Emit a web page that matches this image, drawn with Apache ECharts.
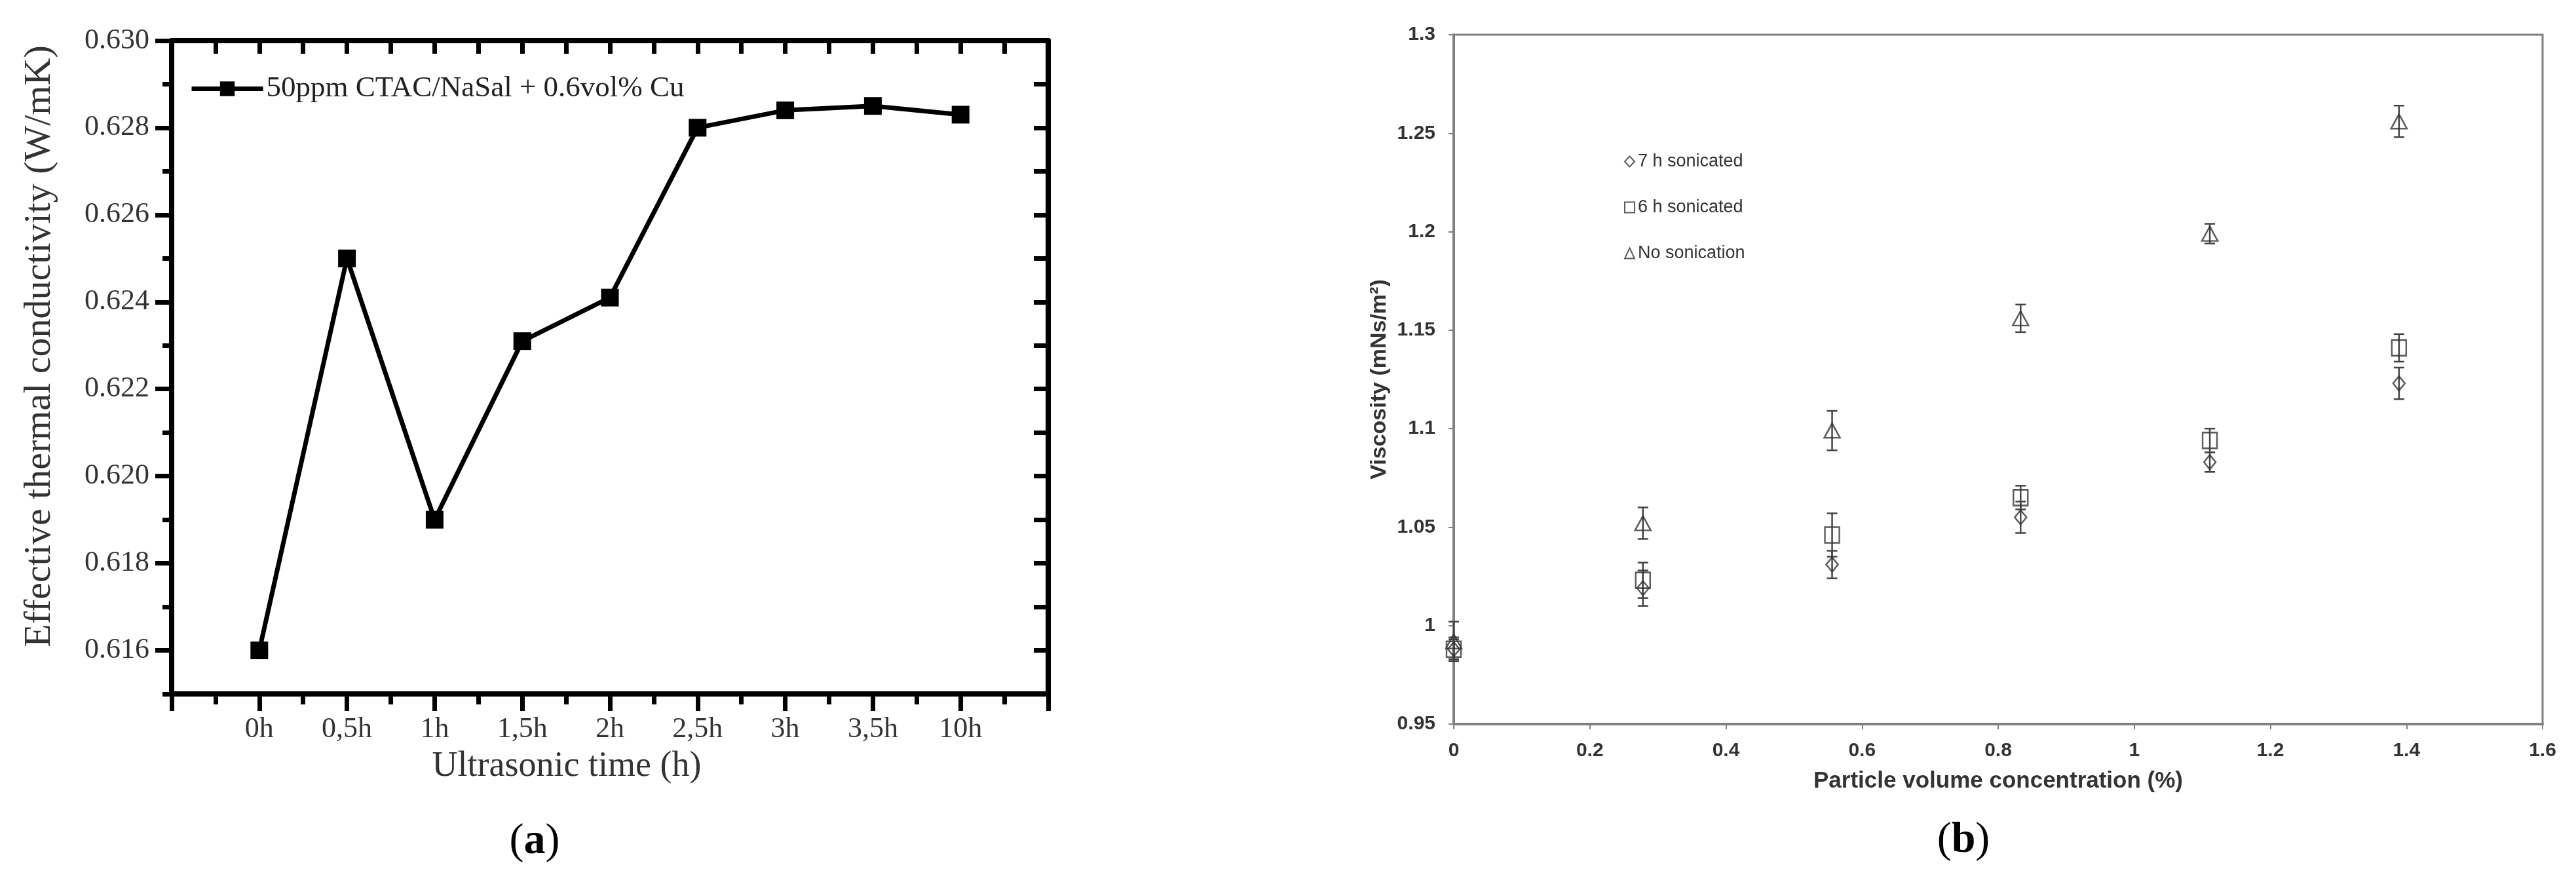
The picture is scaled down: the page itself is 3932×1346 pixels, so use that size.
<!DOCTYPE html>
<html><head><meta charset="utf-8">
<script src="https://cdn.jsdelivr.net/npm/echarts@6/dist/echarts.min.js"></script>
<style>html,body{margin:0;padding:0;background:#fff}#c{width:3932px;height:1346px}</style>
</head><body><div id="c"></div>
<script>
// ---- Panel (a) data ----
const timeLabels = ['0h', '0,5h', '1h', '1,5h', '2h', '2,5h', '3h', '3,5h', '10h'];
const conductivity = [0.616, 0.625, 0.619, 0.6231, 0.6241, 0.628, 0.6284, 0.6285, 0.6283];
const conductivityTicks = [0.616, 0.618, 0.620, 0.622, 0.624, 0.626, 0.628, 0.630];
const seriesA = '50ppm CTAC/NaSal + 0.6vol% Cu';

// ---- Panel (b) data ----
const concentration = [0, 0.278, 0.556, 0.833, 1.111, 1.389];
const visc7h = [0.988, 1.019, 1.031, 1.055, 1.083, 1.123];
const err7h = [0.005, 0.009, 0.007, 0.008, 0.005, 0.008];
const visc6h = [0.988, 1.023, 1.046, 1.065, 1.094, 1.141];
const err6h = [0.006, 0.009, 0.011, 0.006, 0.006, 0.007];
const viscNone = [0.992, 1.052, 1.099, 1.156, 1.199, 1.256];
const errNone = [0.010, 0.008, 0.010, 0.007, 0.005, 0.008];
const namesB = ['7 h sonicated', '6 h sonicated', 'No sonication'];

const chart = echarts.init(document.getElementById('c'));
const SERIF = 'Liberation Serif';
const SANS = 'Liberation Sans';
const black = '#000';
const gray = '#808080';

function errRender(params, api) {
  const x = api.value(0), y = api.value(1), e = api.value(2);
  const t = api.coord([x, y + e]), b = api.coord([x, y - e]);
  const c = 8;
  const st = { stroke: '#444', lineWidth: 2.5 };
  return { type: 'group', children: [
    { type: 'line', shape: { x1: t[0], y1: t[1], x2: b[0], y2: b[1] }, style: st },
    { type: 'line', shape: { x1: t[0] - c, y1: t[1], x2: t[0] + c, y2: t[1] }, style: st },
    { type: 'line', shape: { x1: b[0] - c, y1: b[1], x2: b[0] + c, y2: b[1] }, style: st }
  ]};
}
function errData(vals, errs) { return concentration.map((x, i) => [x, vals[i], errs[i]]); }
function ptData(vals) { return concentration.map((x, i) => [x, vals[i]]); }

const AXW = 8, TKW = 7;
const option = {
  backgroundColor: '#fff',
  animation: false,
  grid: [
    { left: 262, right: 2332, top: 62, bottom: 287 },
    { left: 2219, right: 51, top: 53, bottom: 241, show: true, borderColor: gray, borderWidth: 3 }
  ],
  legend: [
    { data: [seriesA], left: 284, top: 108, itemWidth: 109, itemHeight: 28,
      lineStyle: { width: 7 },
      textStyle: { fontFamily: SERIF, fontSize: 45, color: '#222' } },
    { data: namesB, orient: 'vertical', left: 2474, top: 228, itemWidth: 15, itemHeight: 16, itemGap: 43,
      textStyle: { fontFamily: SANS, fontSize: 27, color: '#333' } }
  ],
  xAxis: [
    { gridIndex: 0, type: 'value', position: 'bottom', min: 0, max: 10, interval: 1,
      axisLine: { lineStyle: { color: black, width: AXW } },
      axisTick: { inside: false, length: 26, lineStyle: { color: black, width: TKW } },
      minorTick: { show: true, splitNumber: 2, length: 16, lineStyle: { color: black, width: TKW } },
      splitLine: { show: false }, minorSplitLine: { show: false },
      axisLabel: { formatter: v => timeLabels[Math.round(v) - 1] || '', fontFamily: SERIF, fontSize: 44, color: '#333', margin: 32 },
      name: 'Ultrasonic time (h)', nameLocation: 'middle', nameGap: 84,
      nameTextStyle: { fontFamily: SERIF, fontSize: 54, color: '#333', padding: [0, 132, 0, 0] } },
    { gridIndex: 0, type: 'value', position: 'top', min: 0, max: 10, interval: 0.5,
      axisLine: { lineStyle: { color: black, width: AXW } },
      axisTick: { inside: true, length: 20, lineStyle: { color: black, width: TKW } },
      axisLabel: { show: false }, splitLine: { show: false } },
    { gridIndex: 1, type: 'value', min: 0, max: 1.6, interval: 0.2,
      axisLine: { lineStyle: { color: gray, width: 4 } },
      axisTick: { length: 8, lineStyle: { color: gray, width: 2 } },
      splitLine: { show: false },
      axisLabel: { fontFamily: SANS, fontWeight: 'bold', fontSize: 30, color: '#333', margin: 26 },
      name: 'Particle volume concentration (%)', nameLocation: 'middle', nameGap: 70,
      nameTextStyle: { fontFamily: SANS, fontWeight: 'bold', fontSize: 35, color: '#333' } }
  ],
  yAxis: [
    { gridIndex: 0, type: 'value', position: 'left', min: 0.615, max: 0.630, interval: 0.001,
      axisLine: { lineStyle: { color: black, width: AXW } },
      axisTick: { customValues: conductivityTicks, length: 25, lineStyle: { color: black, width: TKW } },
      axisLabel: { customValues: conductivityTicks, formatter: v => v.toFixed(3), fontFamily: SERIF, fontSize: 44, color: '#333', margin: 34 },
      splitLine: { show: false },
      name: 'Effective thermal conductivity (W/mK)', nameLocation: 'middle', nameGap: 172,
      nameTextStyle: { fontFamily: SERIF, fontSize: 58, color: '#333', padding: [0, 0, 0, 64] } },
    { gridIndex: 0, type: 'value', position: 'left', min: 0.615, max: 0.630, interval: 0.001,
      axisLine: { show: false },
      axisTick: { length: 14, lineStyle: { color: black, width: TKW } },
      axisLabel: { show: false }, splitLine: { show: false } },
    { gridIndex: 0, type: 'value', position: 'right', min: 0.615, max: 0.630, interval: 0.001,
      axisLine: { lineStyle: { color: black, width: AXW } },
      axisTick: { inside: true, length: 22, lineStyle: { color: black, width: TKW } },
      axisLabel: { show: false }, splitLine: { show: false } },
    { gridIndex: 1, type: 'value', min: 0.95, max: 1.3, interval: 0.05,
      axisLine: { lineStyle: { color: gray, width: 4 } },
      axisTick: { length: 8, lineStyle: { color: gray, width: 2 } },
      splitLine: { show: false },
      axisLabel: { fontFamily: SANS, fontWeight: 'bold', fontSize: 30, color: '#333', margin: 28 },
      name: 'Viscosity (mNs/m²)', nameLocation: 'middle', nameGap: 96,
      nameTextStyle: { fontFamily: SANS, fontWeight: 'bold', fontSize: 34, color: '#333' } }
  ],
  series: [
    { name: seriesA, type: 'line', xAxisIndex: 0, yAxisIndex: 0,
      data: conductivity.map((v, i) => [i + 1, v]),
      symbol: 'rect', symbolSize: 27,
      lineStyle: { color: black, width: 7 }, itemStyle: { color: black } },
    { type: 'custom', xAxisIndex: 2, yAxisIndex: 3, renderItem: errRender, data: errData(visc7h, err7h), encode: { x: 0, y: 1 }, z: 1 },
    { type: 'custom', xAxisIndex: 2, yAxisIndex: 3, renderItem: errRender, data: errData(visc6h, err6h), encode: { x: 0, y: 1 }, z: 1 },
    { type: 'custom', xAxisIndex: 2, yAxisIndex: 3, renderItem: errRender, data: errData(viscNone, errNone), encode: { x: 0, y: 1 }, z: 1 },
    { name: namesB[0], type: 'scatter', xAxisIndex: 2, yAxisIndex: 3, data: ptData(visc7h),
      symbol: 'diamond', symbolSize: [18, 22], z: 3,
      itemStyle: { color: 'rgba(255,255,255,0)', borderColor: '#333', borderWidth: 2.5 } },
    { name: namesB[1], type: 'scatter', xAxisIndex: 2, yAxisIndex: 3, data: ptData(visc6h),
      symbol: 'rect', symbolSize: [22, 24], z: 3,
      itemStyle: { color: 'rgba(255,255,255,0)', borderColor: '#333', borderWidth: 2.5 } },
    { name: namesB[2], type: 'scatter', xAxisIndex: 2, yAxisIndex: 3, data: ptData(viscNone),
      symbol: 'triangle', symbolSize: [24, 22], z: 3,
      itemStyle: { color: 'rgba(255,255,255,0)', borderColor: '#333', borderWidth: 2.5 } }
  ],
  graphic: [
    { type: 'text', x: 816, y: 1285, style: { text: '{p|(}{b|a}{p|)}', align: 'center', verticalAlign: 'middle',
      rich: { p: { fontFamily: SERIF, fontSize: 66, fill: '#000' }, b: { fontFamily: SERIF, fontSize: 66, fontWeight: 'bold', fill: '#000' } } } },
    { type: 'text', x: 2997, y: 1283, style: { text: '{p|(}{b|b}{p|)}', align: 'center', verticalAlign: 'middle',
      rich: { p: { fontFamily: SERIF, fontSize: 66, fill: '#000' }, b: { fontFamily: SERIF, fontSize: 66, fontWeight: 'bold', fill: '#000' } } } }
  ]
};
chart.setOption(option);
</script></body></html>
